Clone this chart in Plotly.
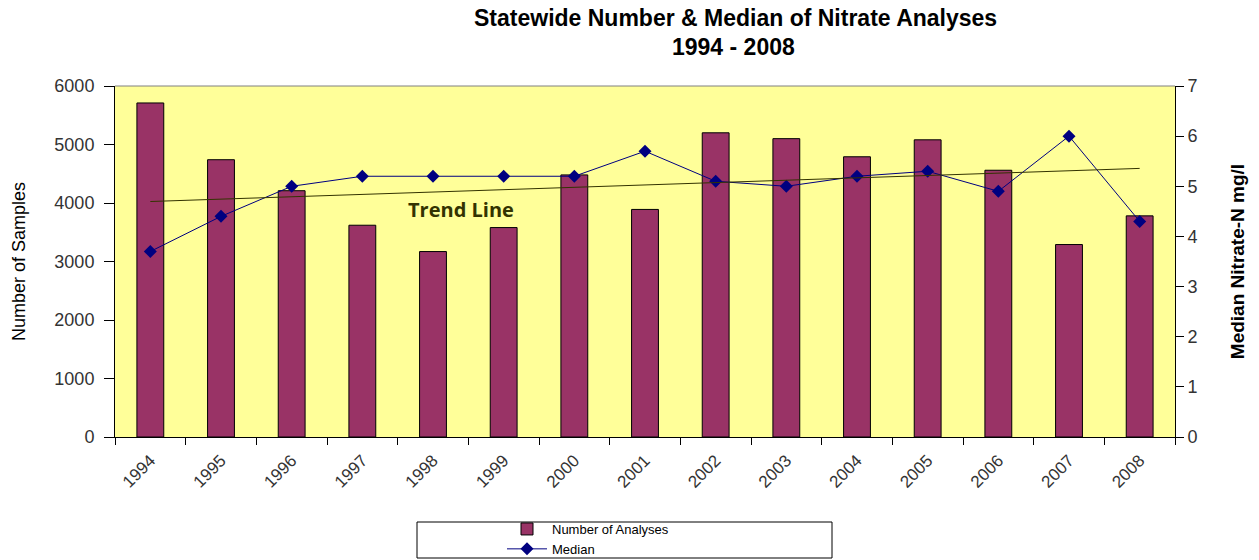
import numpy as np
import plotly.graph_objects as go

years = list(range(1994, 2009))
year_labels = [str(y) for y in years]
analyses = [5710, 4740, 4210, 3620, 3170, 3580, 4480, 3890, 5200, 5100, 4790, 5080, 4560, 3290, 3780]
median = [3.7, 4.4, 5.0, 5.2, 5.2, 5.2, 5.2, 5.7, 5.1, 5.0, 5.2, 5.3, 4.9, 6.0, 4.3]

# linear trend of the medians (Excel-style trendline)
coef = np.polyfit(years, median, 1)
trend = np.polyval(coef, years)

FONT = "Liberation Sans, Arial, sans-serif"
L, R, T, B = 115, 1175, 86, 437
W, H = R - L, B - T

def px(xp):
    return (xp - L) / W

def py(yp):
    return (B - yp) / H

fig = go.Figure()
fig.add_trace(go.Bar(
    x=years, y=analyses, name="Number of Analyses", width=0.38,
    marker=dict(color="#993366", line=dict(color="#000000", width=1)),
))
fig.add_trace(go.Scatter(
    x=years, y=median, name="Median", yaxis="y2", mode="lines+markers",
    line=dict(color="#000080", width=1),
    marker=dict(symbol="diamond", size=10, color="#000080"),
))
fig.add_trace(go.Scatter(
    x=years, y=trend, yaxis="y2", mode="lines", showlegend=False,
    line=dict(color="#333300", width=1),
))

fig.add_annotation(x=1998.4, y=4.53, xref="x", yref="y2", text="<b>Trend Line</b>",
                   showarrow=False, font=dict(family="Open Sans, sans-serif", size=20, color="#333300"))

# title (two lines)
fig.add_annotation(x=px(735), y=py(18), xref="paper", yref="paper", xanchor="center", yanchor="middle",
                   text="<b>Statewide Number & Median of Nitrate Analyses</b>",
                   showarrow=False, font=dict(family=FONT, size=23, color="#000000"))
fig.add_annotation(x=px(733), y=py(47), xref="paper", yref="paper", xanchor="center", yanchor="middle",
                   text="<b>1994 - 2008</b>",
                   showarrow=False, font=dict(family=FONT, size=23, color="#000000"))

# legend box
fig.add_shape(type="rect", xref="paper", yref="paper",
              x0=px(417), x1=px(832), y0=py(558), y1=py(522),
              line=dict(color="#000000", width=1), fillcolor="rgba(0,0,0,0)")
# top border of plot area
fig.add_shape(type="line", xref="paper", yref="paper", x0=0, x1=1, y0=1, y1=1,
              line=dict(color="#808080", width=1))

fig.update_layout(
    width=1259, height=560,
    margin=dict(l=L, r=1259 - R, t=T, b=560 - B, autoexpand=False),
    paper_bgcolor="#ffffff", plot_bgcolor="#ffff99",
    font=dict(family=FONT, size=17, color="#333333"),
    bargap=0.62,
    xaxis=dict(range=[1993.5, 2008.5], tickmode="array", tickvals=years, ticktext=year_labels,
               tickangle=-45, ticks="", showgrid=False, zeroline=False, automargin=False,
               showline=True, linecolor="#000000", linewidth=1, ticklabelstandoff=6,
               minor=dict(tickmode="linear", tick0=1993.5, dtick=1, ticks="outside",
                          ticklen=7, tickcolor="#000000", showgrid=False),
               tickfont=dict(size=17, color="#333333")),
    yaxis=dict(range=[0, 6000], dtick=1000, showgrid=False, zeroline=False, automargin=False,
               showline=True, linecolor="#000000", linewidth=1, ticks="outside", ticklen=10,
               tickcolor="#000000", ticklabelstandoff=6,
               title=dict(text="Number of Samples", font=dict(size=18, color="#000000"), standoff=24),
               tickfont=dict(size=18, color="#333333")),
    yaxis2=dict(range=[0, 7], dtick=1, overlaying="y", side="right", showgrid=False, automargin=False,
                zeroline=False, showline=True, linecolor="#000000", linewidth=1,
                ticks="outside", ticklen=8, tickcolor="#000000",
                title=dict(text="<b>Median Nitrate-N mg/l</b>", font=dict(size=19, color="#000000"), standoff=34),
                tickfont=dict(size=18, color="#333333")),
    legend=dict(x=px(502), xanchor="left", y=py(514), yanchor="top",
                bgcolor="rgba(0,0,0,0)", borderwidth=0, tracegroupgap=0,
                font=dict(family=FONT, size=13, color="#000000"), itemwidth=40),
    showlegend=True,
)

fig.write_html("out.html")
